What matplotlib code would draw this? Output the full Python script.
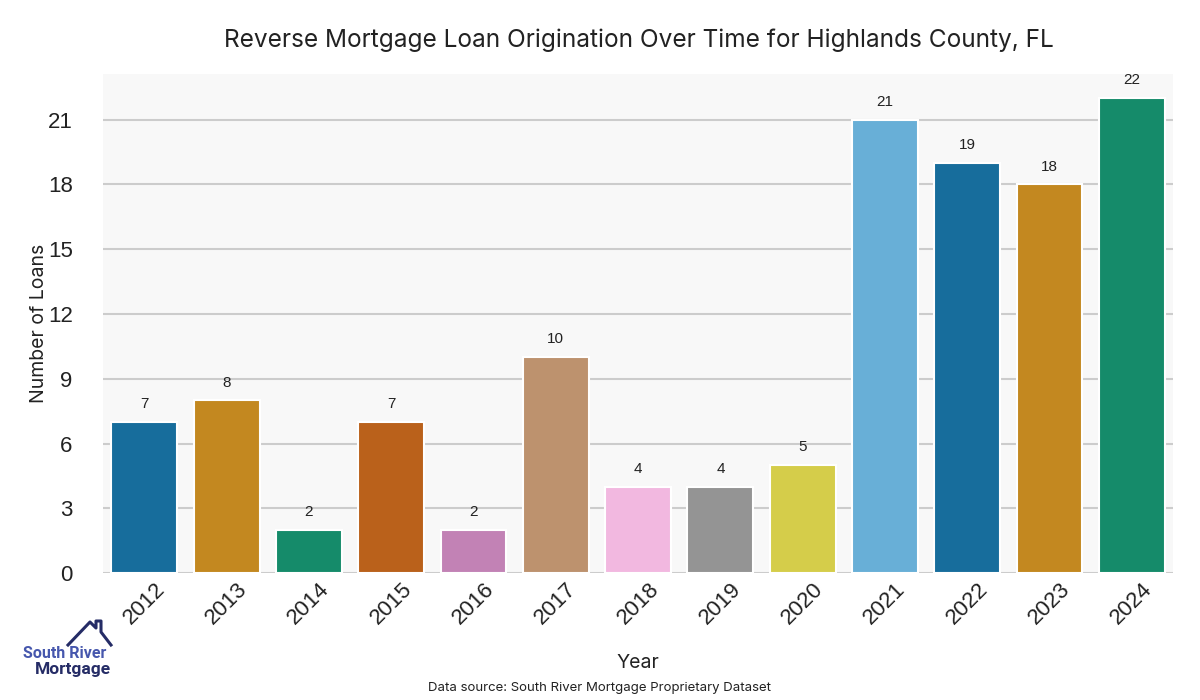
import matplotlib.pyplot as plt
import seaborn as sns
import numpy as np

years = ['2012', '2013', '2014', '2015', '2016', '2017', '2018',
         '2019', '2020', '2021', '2022', '2023', '2024']
loans = [7, 8, 2, 7, 2, 10, 4, 4, 5, 21, 19, 18, 22]

pal = sns.color_palette('colorblind', 10)
colors = [sns.desaturate(pal[i % 10], 0.75) for i in range(len(years))]

fig = plt.figure(figsize=(12, 7), dpi=100)
ax = fig.add_axes([0.086, 0.181, 0.8915, 0.713])
ax.set_facecolor('#f8f8f8')

x = np.arange(len(years))
bars = ax.bar(x, loans, width=0.8, color=colors, edgecolor='white', linewidth=1.5, zorder=3)

for xi, v in zip(x, loans):
    ax.text(xi, v + 0.5, str(v), ha='center', va='bottom', fontsize=11,
            color='#222222', family='Liberation Sans')

ax.set_xlim(-0.5, len(years) - 0.5)
ax.set_ylim(0, 23.1)
ax.set_yticks(range(0, 22, 3))
ax.set_xticks(x)
ax.set_xticklabels(years, rotation=45, fontsize=16, family='Liberation Sans', color='#222222')
for lab in ax.get_yticklabels():
    lab.set_family('Liberation Sans')
ax.tick_params(axis='y', labelsize=16, length=0, pad=22, colors='#222222')
ax.tick_params(axis='x', length=0, pad=4)
ax.grid(axis='y', color='#cccccc', linewidth=1.5, zorder=0)
for s in ax.spines.values():
    s.set_visible(False)

ax.set_xlabel('Year', fontsize=14, family='Inter', color='#222222', labelpad=18)
ax.set_ylabel('Number of Loans', fontsize=14, family='Inter', color='#222222', labelpad=0)
fig.text(0.532, 0.943, 'Reverse Mortgage Loan Origination Over Time for Highlands County, FL',
         ha='center', va='center', fontsize=17.6, family='Inter', color='#222222')
fig.text(0.5, 0.017, 'Data source: South River Mortgage Proprietary Dataset',
         ha='center', va='center', fontsize=9.5, family='Inter', color='#222222')

# logo
navy = '#252c66'
hx = [68, 90, 96, 96, 101, 101, 111]
hy = [645, 622, 628, 621, 621, 632, 645]
fig.lines.append(plt.Line2D([v / 1200 for v in hx], [1 - v / 700 for v in hy],
                            transform=fig.transFigure, color=navy, linewidth=2.2))
fig.text(0.019, 0.066, 'South River', fontsize=11.5, fontweight='bold', family='Roboto',
         color='#4657ad', ha='left', va='center')
fig.text(0.0925, 0.044, 'Mortgage', fontsize=12.5, fontweight='bold', family='Roboto',
         color=navy, ha='right', va='center')

fig.savefig('out.png', dpi=100)
